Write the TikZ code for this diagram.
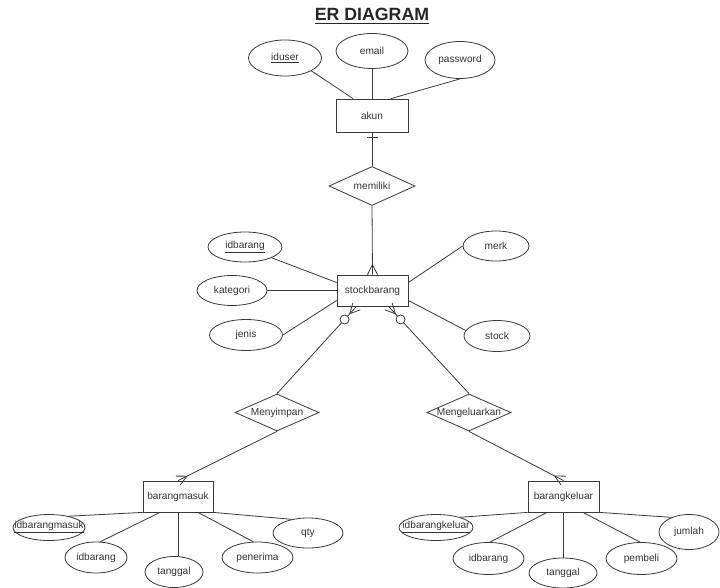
\documentclass[tikz,border=0pt]{standalone}
\usepackage{fontspec}
\setmainfont{Liberation Sans}
\usetikzlibrary{shapes.geometric,calc}
\definecolor{lc}{HTML}{3A3A3A}
\definecolor{tc}{HTML}{333333}
\newcommand\crowmany[2]{\draw[conn] ($(#1)!7.5pt!(#2)$) -- ($(#1)!3.75pt!90:(#2)$) ($(#1)!7.5pt!(#2)$) -- ($(#1)!3.75pt!-90:(#2)$);}
\newcommand\zerocirc[2]{\draw[conn,fill=white] ($(#1)!13.3pt!(#2)$) circle (3.4pt);}
\begin{document}
\begin{tikzpicture}[x=0.75pt,y=-0.75pt,
  every node/.style={font=\fontsize{7.6}{9}\selectfont, text=tc},
  conn/.style={draw=lc, line width=0.6pt},
  ent/.style={draw=lc, line width=0.6pt, fill=white, rectangle, inner sep=0pt, minimum width=53.25pt, minimum height=23.25pt},
  attr/.style={draw=lc, line width=0.6pt, fill=white, ellipse, inner sep=0pt},
  rel/.style={draw=lc, line width=0.6pt, fill=white, diamond, inner sep=0pt, minimum width=63pt, minimum height=27.75pt}]
\fill[white] (0,0) rectangle (720,588);
\useasboundingbox (0,0) rectangle (720,588);

\node[font=\bfseries\fontsize{13.3}{15}\selectfont, text=black!85] (title) at (372,16) {\underline{ER DIAGRAM}};

% top entity
\node[attr, minimum width=54.75pt, minimum height=27pt, label=center:{\underline{iduser}}] (iduser) at (285,58) {};
\node[attr, minimum width=54pt, minimum height=26.25pt, label=center:{email}] (email) at (372,51) {};
\node[attr, minimum width=52.5pt, minimum height=27.75pt, label=center:{password}] (password) at (460,60) {};
\node[ent, minimum width=54pt, minimum height=24.75pt, label=center:{akun}] (akun) at (372,115.5) {};
\node[rel, minimum width=64.5pt, minimum height=29.25pt, label=center:{memiliki}] (memiliki) at (372,186) {};

% stockbarang
\node[ent, label=center:{stockbarang}] (sb) at (372.5,290.5) {};
\node[attr, minimum width=55.5pt, minimum height=22.5pt, label=center:{\underline{idbarang}}] (idbarang) at (245,247) {};
\node[attr, minimum width=52.5pt, minimum height=22.5pt, label=center:{kategori}] (kategori) at (232,290.5) {};
\node[attr, minimum width=54.75pt, minimum height=23.25pt, label=center:{jenis}] (jenis) at (246,335) {};
\node[attr, minimum width=49.5pt, minimum height=22.5pt, label=center:{merk}] (merk) at (496,246) {};
\node[attr, minimum width=49.5pt, minimum height=23.25pt, label=center:{stock}] (stock) at (497,336) {};

% relations
\node[rel, label=center:{Menyimpan}] (menyimpan) at (277,412.5) {};
\node[rel, label=center:{Mengeluarkan}] (mengeluarkan) at (469,412.5) {};

% barangmasuk
\node[ent, minimum width=52.5pt, label=center:{barangmasuk}] (bm) at (178,496.5) {};
\node[attr, minimum width=54pt, minimum height=19.5pt, label=center:{\underline{idbarangmasuk}}] (ibm) at (49,527.5) {};
\node[attr, minimum width=46.5pt, minimum height=23.25pt, label=center:{idbarang}] (ib1) at (96,557.5) {};
\node[attr, minimum width=43.5pt, minimum height=23.25pt, label=center:{tanggal}] (tg1) at (174,572) {};
\node[attr, minimum width=53.25pt, minimum height=23.25pt, label=center:{penerima}] (pen) at (257.5,557.5) {};
\node[attr, minimum width=52.5pt, minimum height=22.5pt, label=center:{qty}] (qty) at (308,533) {};

% barangkeluar
\node[ent, label=center:{barangkeluar}] (bk) at (563.5,496.5) {};
\node[attr, minimum width=55.5pt, minimum height=19.5pt, label=center:{\underline{idbarangkeluar}}] (ibk) at (436,527.5) {};
\node[attr, minimum width=53.25pt, minimum height=24pt, label=center:{idbarang}] (ib2) at (488.5,558.5) {};
\node[attr, minimum width=51pt, minimum height=22.5pt, label=center:{tanggal}] (tg2) at (563,573) {};
\node[attr, minimum width=53.25pt, minimum height=24pt, label=center:{pembeli}] (pem) at (641.5,558.5) {};
\node[attr, minimum width=45pt, minimum height=26.25pt, label=center:{jumlah}] (jum) at (689,532) {};

% connectors: akun
\draw[conn] (iduser.-26) -- ($(akun.north)+(-19,0)$);
\draw[conn] (email) -- (akun);
\draw[conn] (password.south) -- ($(akun.north)+(19,0)$);
\draw[conn] (akun) -- (memiliki);
\draw[conn] ($(akun.south)+(-5.5,5)$) -- ($(akun.south)+(5.5,5)$);
\coordinate (sbt) at (sb.north);
\draw[conn] (memiliki.south) -- (sbt);
\crowmany{sbt}{memiliki.south}

% stockbarang attributes
\draw[conn] (idbarang.-22) -- ($(sb.west)+(0,-8)$);
\draw[conn] (kategori) -- (sb);
\draw[conn] (jenis.east) -- ($(sb.west)+(0,10)$);
\draw[conn] (merk.west) -- ($(sb.east)+(0,-8)$);
\draw[conn] (stock.170) -- ($(sb.east)+(0,10)$);

% relations to stockbarang
\coordinate (sbl) at ($(sb.south)+(-16,0)$);
\coordinate (sbr) at ($(sb.south)+(16,0)$);
\draw[conn] (menyimpan.north) -- (sbl);
\crowmany{sbl}{menyimpan.north}
\zerocirc{sbl}{menyimpan.north}
\draw[conn] (mengeluarkan.north) -- (sbr);
\crowmany{sbr}{mengeluarkan.north}
\zerocirc{sbr}{mengeluarkan.north}

% relations to transactions
\coordinate (bmt) at (bm.north);
\coordinate (bkt) at (bk.north);
\draw[conn] (menyimpan.south) -- (bmt);
\crowmany{bmt}{menyimpan.south}
\draw[conn] (mengeluarkan.south) -- (bkt);
\crowmany{bkt}{mengeluarkan.south}

% barangmasuk attributes
\draw[conn] (bm.south west) -- (ibm.30);
\draw[conn] ($(bm.south)+(-18,0)$) -- (ib1.75);
\draw[conn] (bm.south) -- (bm.south |- tg1.north);
\draw[conn] ($(bm.south)+(20,0)$) -- (pen.105);
\draw[conn] (bm.south east) -- (qty.140);

% barangkeluar attributes
\draw[conn] (bk.south west) -- (ibk.23);
\draw[conn] ($(bk.south)+(-16.5,0)$) -- (ib2.85);
\draw[conn] (bk.south) -- (bk.south |- tg2.north);
\draw[conn] ($(bk.south)+(19.5,0)$) -- (pem.95);
\draw[conn] (bk.south east) -- (jum.140);
\end{tikzpicture}
\end{document}
